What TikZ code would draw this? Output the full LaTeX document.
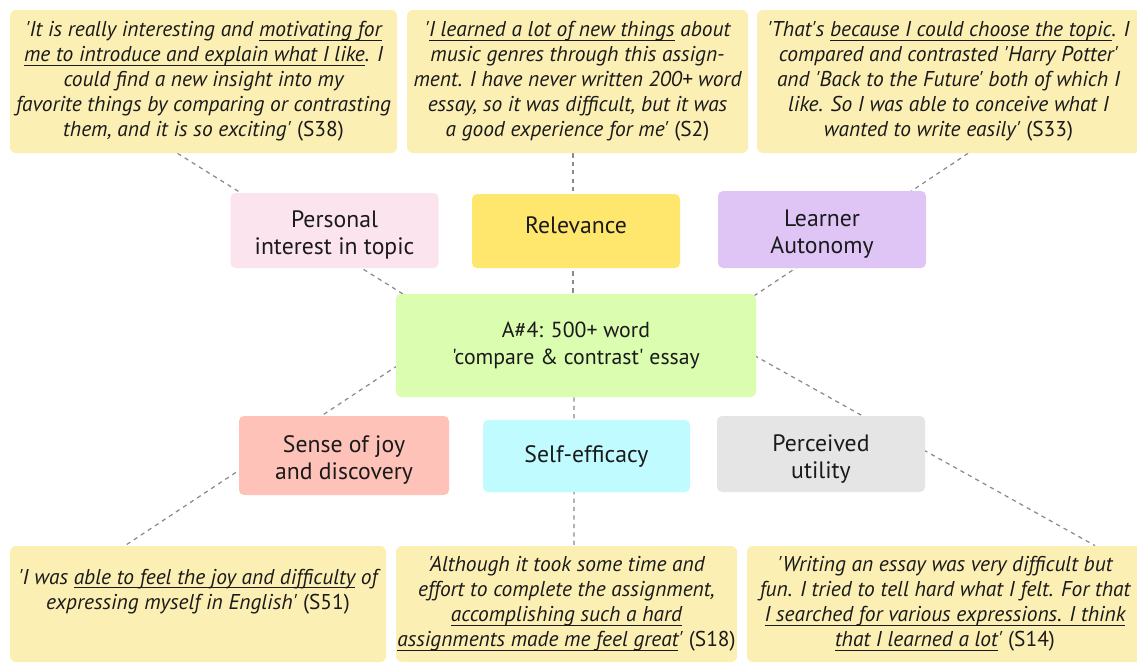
\documentclass[tikz,border=0pt]{standalone}
\usepackage{fontspec}
\setmainfont{PT Sans}[Ligatures=TeXOff]
\usetikzlibrary{calc}

\newlength\pxu
\setlength\pxu{0.02cm}

% underlining of a phrase kept on one line
\newsavebox\ulinebox
\newcommand\uln[1]{\sbox\ulinebox{#1}\rlap{\rule[-2.4pt]{\wd\ulinebox}{0.75pt}}\usebox\ulinebox}
% struts that move a label down (top) or up (bottom) inside its box
\newcommand\topstrut{\rule{0pt}{15pt}}
\newcommand\botstrut{\rule[-7pt]{0pt}{7pt}}

\definecolor{quotebg}{HTML}{FCEFB4}
\definecolor{pinkbg}{HTML}{FCE4EF}
\definecolor{yellowbg}{HTML}{FFE66D}
\definecolor{lavenderbg}{HTML}{DEC5F5}
\definecolor{greenbg}{HTML}{DAFDB0}
\definecolor{salmonbg}{HTML}{FFC2B8}
\definecolor{cyanbg}{HTML}{BFFBFF}
\definecolor{greybg}{HTML}{E5E5E5}
\definecolor{linkgrey}{HTML}{8A8A8A}
\definecolor{inkcol}{HTML}{1A1A1A}

\newcommand\quotefont{\fontsize{12.2pt}{14.2pt}\selectfont\itshape}
\newcommand\catfont{\fontsize{13.5pt}{15.4pt}\selectfont}
\newcommand\taskfont{\fontsize{12.4pt}{15.4pt}\selectfont}
\newcommand\src[1]{\textup{(#1)}}

\pgfdeclarelayer{backdrop}
\pgfdeclarelayer{links}
\pgfsetlayers{backdrop,links,main}

\tikzset{
  quotebox/.style={fill=quotebg, rounded corners=6\pxu, inner sep=0pt,
    align=center, font=\quotefont, text=inkcol, minimum height=#1},
  quotebox/.default=143\pxu,
  catbox/.style={rounded corners=5\pxu, inner sep=0pt, align=center,
    font=\catfont, text=inkcol, minimum width=208\pxu},
  link/.style={draw=linkgrey, line width=0.7pt, dash pattern=on 2.4pt off 2.4pt}
}

\begin{document}
\begin{tikzpicture}[x=0.02cm, y=-0.02cm]
\useasboundingbox (0,0) rectangle (1137,663);
\clip (0,0) rectangle (1137,663);
\begin{pgfonlayer}{backdrop}
  \fill[white] (0,0) rectangle (1137,663);
\end{pgfonlayer}

% quotation boxes, top row
\node[quotebox, minimum width=387\pxu] (q1) at (203.5,81.5)
  {'It is really interesting and \uln{motivating for}\\
   \uln{me to introduce and explain what I like}. I\\
   could find a new insight into my\\
   favorite things by comparing or contrasting\\
   them, and it is so exciting' \src{S38}};
\node[quotebox, minimum width=341\pxu] (q2) at (577.5,81.5)
  {'\uln{I learned a lot of new things} about\\
   music genres through this assign-\\
   ment. I have never written 200+ word\\
   essay, so it was difficult, but it was\\
   a good experience for me' \src{S2}};
\node[quotebox, minimum width=383\pxu] (q3) at (948.5,81.5)
  {'That's \uln{because I could choose the topic}. I\\
   compared and contrasted 'Harry Potter'\\
   and 'Back to the Future' both of which I\\
   like. So I was able to conceive what I\\
   wanted to write easily' \src{S33}};

% quotation boxes, bottom row
\node[quotebox=116\pxu, minimum width=376\pxu] (q4) at (198,604)
  {'I was \uln{able to feel the joy and difficulty} of\\
   expressing myself in English' \src{S51}\rule[-0.6cm]{0pt}{0.6cm}};
\node[quotebox=116\pxu, minimum width=341\pxu] (q5) at (566.5,604)
  {'Although it took some time and\\
   effort to complete the assignment,\\
   \uln{accomplishing such a hard}\\
   \uln{assignments made me feel great}' \src{S18}};
\node[quotebox=116\pxu, minimum width=396\pxu] (q6) at (945,604)
  {'Writing an essay was very difficult but\\
   fun. I tried to tell hard what I felt. For that\\
   \uln{I searched for various expressions. I think}\\
   \uln{that I learned a lot}' \src{S14}};

% motivational factors
\node[catbox, fill=pinkbg, minimum height=75\pxu] (interest) at (334.5,230.5)
  {\topstrut Personal\\interest in topic};
\node[catbox, fill=yellowbg, minimum height=74\pxu] (relevance) at (576,231)
  {Relevance\botstrut};
\node[catbox, fill=lavenderbg, minimum height=77\pxu] (autonomy) at (822,229.5)
  {\topstrut Learner\\Autonomy};
\node[catbox, fill=salmonbg, minimum width=210\pxu, minimum height=79\pxu] (joy) at (344,455.5)
  {\topstrut Sense of joy\\and discovery};
\node[catbox, fill=cyanbg, minimum width=207\pxu, minimum height=72\pxu] (efficacy) at (586.5,456)
  {Self-efficacy};
\node[catbox, fill=greybg, minimum height=76\pxu] (utility) at (821,454)
  {\topstrut Perceived\\utility};

% the assignment
\node[catbox, font=\taskfont, fill=greenbg, minimum width=360\pxu, minimum height=103\pxu] (task) at (576,345.5)
  {A\#4: 500+ word\\'compare \& contrast' essay};

% dashed links, running behind the factor boxes
\begin{pgfonlayer}{links}
  \draw[link] ([xshift=-26\pxu]q1.south) -- ([xshift=10\pxu,yshift=-2\pxu]task.north west);
  \draw[link] ([xshift=-4.5\pxu]q2.south) -- ([xshift=-3\pxu]task.north);
  \draw[link] ([xshift=19.5\pxu]q3.south) -- ([xshift=-2\pxu,yshift=-2\pxu]task.north east);
  \draw[link] ([xshift=2\pxu,yshift=-20\pxu]task.west) -- ([xshift=-73\pxu]q4.north);
  \draw[link] ([xshift=-2\pxu]task.south) -- ([xshift=7.5\pxu]q5.north);
  \draw[link] ([xshift=-2\pxu,yshift=-10\pxu]task.east) -- ([xshift=150\pxu]q6.north);
\end{pgfonlayer}
\end{tikzpicture}
\end{document}
